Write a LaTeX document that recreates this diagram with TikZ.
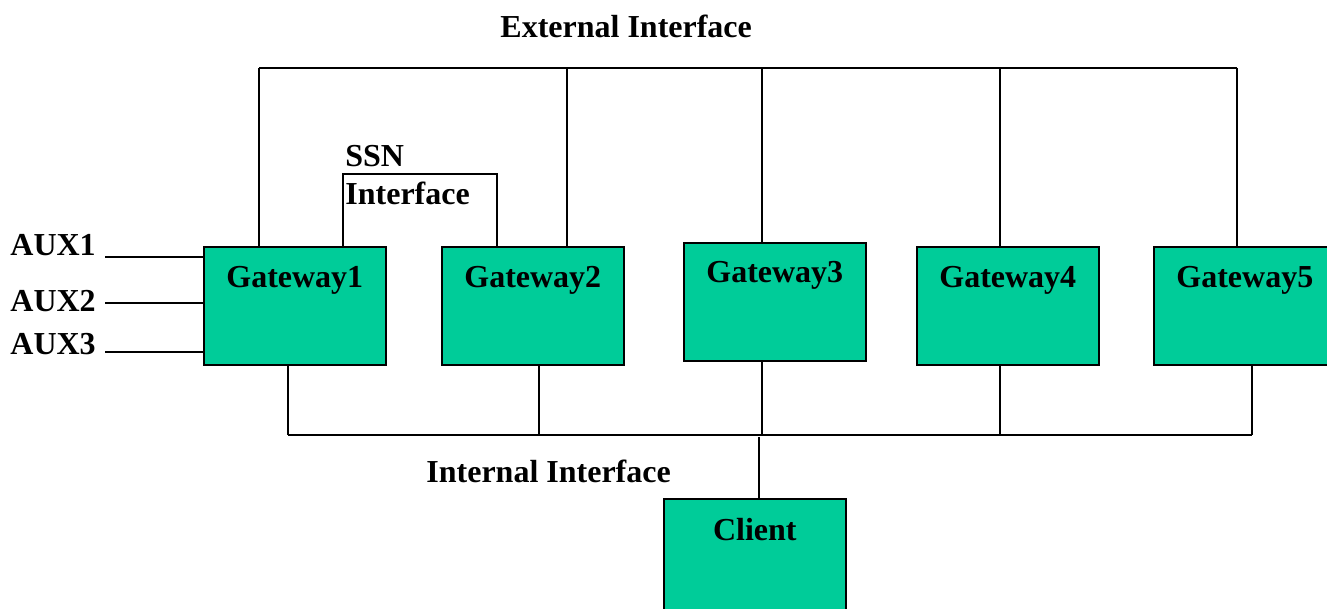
\documentclass[tikz,border=0pt]{standalone}
\usepackage{fontspec}
\setmainfont{Liberation Serif}
\usetikzlibrary{positioning}
\definecolor{gwgreen}{RGB}{0,204,153}

\begin{document}
\begin{tikzpicture}[x=0.5pt, y=-0.5pt,
    every node/.style={font=\fontsize{16}{19}\selectfont\bfseries},
    gw/.style={draw, line width=0.8pt, fill=gwgreen, minimum width=91pt, minimum height=59pt, anchor=north west, inner sep=0pt},
    lbl/.style={inner sep=0pt, anchor=base west},
    wire/.style={line width=0.6pt}]
  \useasboundingbox (0,0) rectangle (1327,609);

  % Definizione dei nodi
  \node[gw, label={[anchor=base, yshift=-20.5pt]north:Gateway1}] (g1) at (203,246) {};
  \node[gw, label={[anchor=base, yshift=-20.5pt]north:Gateway2}] (g2) at (441,246) {};
  \node[gw, label={[anchor=base, yshift=-20.5pt]north:Gateway3}] (g3) at (683,242) {};
  \node[gw, label={[anchor=base, yshift=-20.5pt]north:Gateway4}] (g4) at (916,246) {};
  \node[gw, minimum width=99pt, label={[anchor=base, yshift=-20.5pt, xshift=-4pt]north:Gateway5}] (g5) at (1153,246) {}; % tagliato a destra
  \node[gw, minimum height=70pt, label={[anchor=base, yshift=-21pt]north:Client}] (cl) at (663,498) {};

  % Etichette
  \node[lbl] (ext) at (500,38) {External Interface};
  \node[lbl] (int) at (426,482) {Internal Interface};
  \node[lbl] (ssn1) at (345,167) {SSN};
  \node[lbl] (ssn2) at (345,205) {Interface};
  \node[lbl] (aux1) at (10,256) {AUX1};
  \node[lbl] (aux2) at (10,311) {AUX2};
  \node[lbl] (aux3) at (10,354) {AUX3};

  % Linee AUX
  \coordinate (a1) at (105,257);
  \coordinate (a2) at (105,303);
  \coordinate (a3) at (105,352);
  \draw[wire] (a1) -- (a1 -| g1.west); % AUX1 verso Gateway1
  \draw[wire] (a2) -- (a2 -| g1.west); % AUX2 verso Gateway1
  \draw[wire] (a3) -- (a3 -| g1.west); % AUX3 verso Gateway1

  % Interfaccia esterna (in alto)
  \draw[wire] (259,68) -- (1237,68);
  \foreach \g/\xe in {g1/259, g2/567, g3/762, g4/1000, g5/1237}
    \draw[wire] (\xe,68) -- (\g.north -| \xe,68);

  % Interfaccia SSN tra Gateway1 e Gateway2
  \draw[wire] (g1.north -| 343,0) -- (343,174) -| (g2.north -| 497,0);

  % Interfaccia interna (in basso)
  \draw[wire] (288,435) -- (1252,435);
  \foreach \g/\xi in {g1/288, g2/539, g3/762, g4/1000, g5/1252}
    \draw[wire] (\g.south -| \xi,435) -- (\xi,435);
  \draw[wire] (759,437) -- (cl.north -| 759,0); % collegamento al Client
\end{tikzpicture}
\end{document}
